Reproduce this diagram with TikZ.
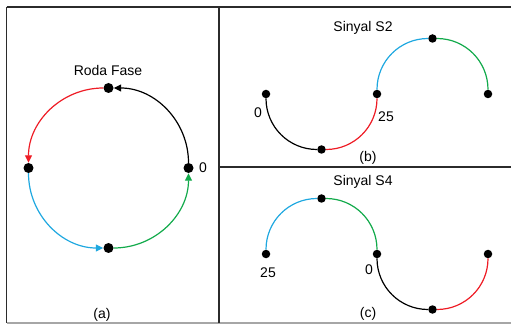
\documentclass[tikz,border=0pt]{standalone}
\usepackage{fontspec}
\setmainfont{Liberation Sans}
\usetikzlibrary{arrows.meta}
\definecolor{cred}{HTML}{EE1C25}
\definecolor{cblue}{HTML}{1FA8E0}
\definecolor{cgreen}{HTML}{12AA4B}
\definecolor{frame}{HTML}{2B2B2B}
\begin{document}
\begin{tikzpicture}[x=1pt,y=1pt,
  bigdot/.style={circle,fill=black,inner sep=0pt,minimum size=10pt},
  smalldot/.style={circle,fill=black,inner sep=0pt,minimum size=8.5pt},
  lbl/.style={font=\fontsize{14}{16}\selectfont,inner sep=0pt},
  arc/.style={line width=1.2pt},
  tip/.style={-{Triangle[length=7.5pt,width=7pt]}},
  frameline/.style={draw=frame,line width=1.6pt}]
\useasboundingbox (0,0) rectangle (511,324);
% frame
\coordinate (tl) at (6.5,317);
\coordinate (bl) at (6.5,1);
\coordinate (tr) at (511,317);
\coordinate (br) at (511,1);
\coordinate (vt) at (219,317);
\coordinate (vb) at (219,1);
\coordinate (hl) at (219,157);
\coordinate (hr) at (511,157);
\draw[frameline] (tl) -- (tr);
\draw[frameline] (tl) -- (bl);
\draw[draw=gray!70,line width=1.6pt] (bl) -- (br);
\draw[frameline,line width=1.2pt] (vt) -- (vb);
\draw[frameline,line width=1.2pt] (hl) -- (hr);
% panel (a)
\node[bigdot] (at) at (108.5,236) {};
\node[bigdot] (al) at (28.5,156) {};
\node[bigdot] (ab) at (108.5,76) {};
\node[bigdot] (ar) at (188.5,156) {};
\draw[arc,tip,black] (ar) to[bend right=45] (at);
\draw[arc,tip,cred] (at) to[bend right=45] (al);
\draw[arc,tip,cblue] (al) to[bend right=45] (ab);
\draw[arc,tip,cgreen] (ab) to[bend right=45] (ar);
\node[lbl] (atitle) at (108,254) {Roda Fase};
\node[lbl] (a0) at (203,156) {0};
\node[lbl] (acap) at (102,9) {(a)};
% panel (b)
\node[smalldot] (bl1) at (266,230) {};
\node[smalldot] (bb) at (321.5,174.5) {};
\node[smalldot] (bm) at (377,230) {};
\node[smalldot] (bt) at (432.5,285.5) {};
\node[smalldot] (br1) at (488,230) {};
\draw[arc,black] (bl1) to[bend right=45] (bb);
\draw[arc,cred] (bb) to[bend right=45] (bm);
\draw[arc,cblue] (bm) to[bend left=45] (bt);
\draw[arc,cgreen] (bt) to[bend left=45] (br1);
\node[lbl] (btitle) at (363,296) {Sinyal S2};
\node[lbl] (b0) at (258,211) {0};
\node[lbl] (b25) at (386,207) {25};
\node[lbl] (bcap) at (368,166) {(b)};
% panel (c)
\node[smalldot] (cl) at (266,70) {};
\node[smalldot] (ct) at (321.5,125.5) {};
\node[smalldot] (cm) at (377,70) {};
\node[smalldot] (cb) at (432.5,14.5) {};
\node[smalldot] (cr) at (488,70) {};
\draw[arc,cblue] (cl) to[bend left=45] (ct);
\draw[arc,cgreen] (ct) to[bend left=45] (cm);
\draw[arc,black] (cm) to[bend right=45] (cb);
\draw[arc,cred] (cb) to[bend right=45] (cr);
\node[lbl] (ctitle) at (363,142) {Sinyal S4};
\node[lbl] (c25) at (268,51) {25};
\node[lbl] (c0) at (369,54) {0};
\node[lbl] (ccap) at (368,10) {(c)};
\end{tikzpicture}
\end{document}
